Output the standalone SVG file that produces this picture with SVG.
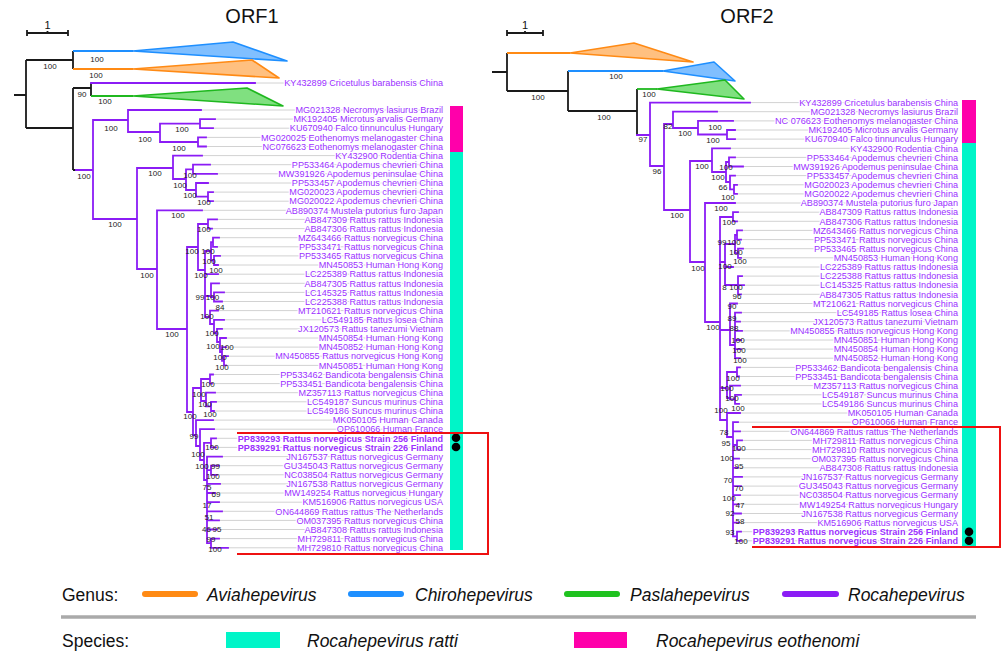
<svg xmlns="http://www.w3.org/2000/svg" width="1007" height="654" viewBox="0 0 1007 654">
<style>
.bk{stroke:#1a1a1a;stroke-width:1.8;fill:none}
.br{stroke:#8b1cf5;stroke-width:1.8;fill:none;stroke-linecap:square}
.ld{stroke:#d2d2d2;stroke-width:1;fill:none}
.lf{font-family:"Liberation Sans",Arial,sans-serif;font-size:9.1px;fill:#9b30ff;text-anchor:end;stroke:#fff;stroke-width:2.4px;paint-order:stroke;stroke-linejoin:round}
.fb{font-weight:bold}
.nl{font-family:"Liberation Sans",Arial,sans-serif;font-size:8px;fill:#222;text-anchor:middle}
.ti{font-family:"Liberation Sans",Arial,sans-serif;font-size:20px;fill:#111;text-anchor:middle}
.lg{font-family:"Liberation Sans",Arial,sans-serif;font-size:17.5px;fill:#111}
.it{font-style:italic}
.box{stroke:#ee1111;stroke-width:2;fill:none}
</style>
<rect width="1007" height="654" fill="#fff"/>
<text class="ti" x="252" y="23">ORF1</text>
<text class="ti" x="747" y="23">ORF2</text>
<g id="scale-left"><path class="bk" stroke-width="1.2" d="M27 33 H68 M27 30 V36 M68 30 V36 M47.5 31 V33"/><text x="47.5" y="29" font-family="Liberation Sans, Arial, sans-serif" font-size="11" text-anchor="middle" fill="#111">1</text></g>
<g id="scale-right"><path class="bk" stroke-width="1.2" d="M507 33 H543 M507 30 V36 M543 30 V36 M525 31 V33"/><text x="525" y="29" font-family="Liberation Sans, Arial, sans-serif" font-size="11" text-anchor="middle" fill="#111">1</text></g>

<g id="connectors">
<path class="ld" d="M255 83 H441 M201 110 H441 M215 119.1 H441 M213 128.2 H441 M206 137.4 H441 M206 146.5 H441 M202 155.6 H441 M210 164.7 H441 M217 173.8 H441 M208 183 H441 M213 192.1 H441 M213 201.2 H441 M202 210.3 H441 M217 219.4 H441 M212 228.6 H441 M219 237.7 H441 M217 246.8 H441 M220 255.9 H441 M218 265 H441 M218 274.2 H441 M219 283.3 H441 M224 292.4 H441 M222 301.5 H441 M218 310.6 H441 M224 319.8 H441 M222 328.9 H441 M226 338 H441 M226 347.1 H441 M228 356.2 H441 M226 365.4 H441 M213 374.5 H441 M212 383.6 H441 M215 392.7 H441 M216 401.8 H441 M214 411 H441 M213 420.1 H441 M214 429.2 H441 M216 438.3 H441 M216 447.4 H441 M222 456.6 H441 M219 465.7 H441 M217 474.8 H441 M220 483.9 H441 M215 493 H441 M219 502.2 H441 M222 511.3 H441 M219 520.4 H441 M217 529.5 H441 M219 538.6 H441 M228 547.8 H441"/>
<path class="ld" d="M750 102.6 H956 M717 111.7 H956 M733 120.9 H956 M735 130 H956 M735 139.1 H956 M730 148.3 H956 M735 157.4 H956 M743 166.5 H956 M735 175.6 H956 M737 184.8 H956 M737 193.9 H956 M735 203 H956 M738 212.2 H956 M737 221.3 H956 M742 230.4 H956 M741 239.6 H956 M743 248.7 H956 M741 257.8 H956 M733 267 H956 M742 276.1 H956 M744 285.2 H956 M741 294.3 H956 M737 303.5 H956 M741 312.6 H956 M740 321.7 H956 M742 330.9 H956 M741 340 H956 M741 349.1 H956 M740 358.2 H956 M740 367.4 H956 M739 376.5 H956 M740 385.6 H956 M741 394.8 H956 M739 403.9 H956 M740 413 H956 M738 422.2 H956 M740 431.3 H956 M742 440.4 H956 M740 449.6 H956 M739 458.7 H956 M738 467.8 H956 M742 476.9 H956 M741 486.1 H956 M740 495.2 H956 M739 504.3 H956 M741 513.5 H956 M739 522.6 H956 M741 531.7 H956 M741 540.8 H956"/>

<path class="bk" d="M14 95 H26 M26 60 V128 M26 60 H73 M73 51 V69 M26 128 H73 M73 88 V170 M73 88 H91 M91 83 V96 M73 170 H76"/>
<path stroke="#1e8fff" stroke-width="1.8" fill="none" d="M73 51 H133"/>
<polygon points="133,51 233,42 287,61" fill="#80bfff" stroke="#1e8fff" stroke-width="1.6" stroke-linejoin="round"/>
<path stroke="#ff8a14" stroke-width="1.8" fill="none" d="M73 69 H133"/>
<polygon points="133,69 252,60 279,78" fill="#ffc080" stroke="#ff8a14" stroke-width="1.6" stroke-linejoin="round"/>
<path stroke="#1fb81f" stroke-width="1.8" fill="none" d="M91 96 H133"/>
<polygon points="133,96 247,88 283,106" fill="#80e080" stroke="#1fb81f" stroke-width="1.6" stroke-linejoin="round"/>
<path class="br" d="M91 83 H255"/>
<path class="br" d="M76 170 H93 M93 120 V219
M93 120 H128 M128 110 V132 M128 110 H201
M128 132 H160 M160 123.7 V142
M160 123.7 H200 M200 119.1 V128.2 M200 119.1 H215 M200 128.2 H213
M160 142 H198 M198 137.4 V146.5 M198 137.4 H206 M198 146.5 H206
M93 219 H137 M137 168 V269
M137 168 H173 M173 155.6 V179 M173 155.6 H202
M173 179 H186 M186 169.3 V190
M186 169.3 H193 M193 164.7 V173.8 M193 164.7 H210 M193 173.8 H217
M186 190 H196 M196 183 V196.6 M196 183 H208
M196 196.6 H208 M208 192.1 V201.2 M208 192.1 H213 M208 201.2 H213
M137 269 H157 M157 210.3 V329 M157 210.3 H202
M157 329 H187 M187 247 V412
M187 247 H198 M198 224 V270
M198 224 H208 M208 219.4 V228.6 M208 219.4 H217 M208 228.6 H212
M198 270 H205 M205 251 V317
M205 251 H211 M211 242.2 V260.4
M211 242.2 H213 M213 237.7 V246.8 M213 237.7 H219 M213 246.8 H217
M211 260.4 H214 M214 255.9 V265 M214 255.9 H220 M214 265 H218
M205 274.2 H218
M205 296 H211 M211 283.3 V297 M211 283.3 H219
M211 297 H214 M214 292.4 V301.5 M214 292.4 H224 M214 301.5 H222
M205 317 H210 M210 310.6 V324 M210 310.6 H218
M210 324 H214 M214 319.8 V333 M214 319.8 H224
M214 333 H217 M217 328.9 V342 M217 328.9 H222
M217 342 H220 M220 338 V352 M220 338 H226
M220 352 H222 M222 347.1 V360.8 M222 347.1 H226
M222 360.8 H224 M224 356.2 V365.4 M224 356.2 H228 M224 365.4 H226
M187 412 H193 M193 388 V435
M193 388 H201 M201 379 V401
M201 379 H210 M210 374.5 V383.6 M210 374.5 H213 M210 383.6 H212
M201 401 H206 M206 392.7 V406.4 M206 392.7 H215
M206 406.4 H211 M211 401.8 V411 M211 401.8 H216 M211 411 H214
M193 435 H196 M196 420.1 V446 M196 420.1 H213
M196 446 H200 M200 429.2 V460 M200 429.2 H214
M200 460 H204 M204 442.8 V480
M204 442.8 H211 M211 438.3 V447.4 M211 438.3 H216 M211 447.4 H216
M204 480 H207 M207 456.6 V543.2 M207 456.6 H222
M207 470.2 H211 M211 465.7 V474.8 M211 465.7 H219 M211 474.8 H217
M207 483.9 H220 M207 493 H215 M207 502.2 H219 M207 511.3 H222 M207 520.4 H219 M207 529.5 H217
M207 543.2 H211 M211 538.6 V547.8 M211 538.6 H219 M211 547.8 H228"/>

<path class="bk" d="M492 72 H507 M507 53 V91 M507 91 H568 M568 71 V111 M568 111 H637 M637 89 V135"/>
<path stroke="#ff8a14" stroke-width="1.8" fill="none" d="M507 53 H570"/>
<polygon points="570,53 634,43 693,62" fill="#ffc080" stroke="#ff8a14" stroke-width="1.6" stroke-linejoin="round"/>
<path stroke="#1e8fff" stroke-width="1.8" fill="none" d="M568 71 H663"/>
<polygon points="663,71 714,62 735,81" fill="#80bfff" stroke="#1e8fff" stroke-width="1.6" stroke-linejoin="round"/>
<path stroke="#1fb81f" stroke-width="1.8" fill="none" d="M637 89 H657"/>
<polygon points="657,89 725,80 744,99" fill="#80e080" stroke="#1fb81f" stroke-width="1.6" stroke-linejoin="round"/>
<path class="br" d="M637 135 H650 M650 102.6 V166 M650 102.6 H750
M650 166 H664 M664 124 V210
M664 124 H673 M673 111.7 V128 M673 111.7 H717
M673 128 H698 M698 120.9 V134.5 M698 120.9 H733
M698 134.5 H727 M727 130 V139.1 M727 130 H735 M727 139.1 H735
M664 210 H690 M690 161 V262
M690 161 H712 M712 148.3 V172 M712 148.3 H730
M712 172 H726 M726 162 V182
M726 162 H729 M729 157.4 V166.5 M729 157.4 H735 M729 166.5 H743
M726 182 H730 M730 175.6 V189.3 M730 175.6 H735
M730 189.3 H734 M734 184.8 V193.9 M734 184.8 H737 M734 193.9 H737
M690 262 H705 M705 203 V322 M705 203 H735
M705 322 H720 M720 217 V420
M720 217 H733 M733 212.2 V221.3 M733 212.2 H738 M733 221.3 H737
M720 262 H725 M725 244 V285
M725 244 H735 M735 235 V253.2
M735 235 H737 M737 230.4 V239.6 M737 230.4 H742 M737 239.6 H741
M735 253.2 H738 M738 248.7 V257.8 M738 248.7 H743 M738 257.8 H741
M725 267 H733
M725 285 H738 M738 276.1 V294.3 M738 276.1 H742 M738 285.2 H744 M738 294.3 H741
M720 330 H730 M730 303.5 V345 M730 303.5 H737
M730 345 H735 M735 312.6 V358.2 M735 312.6 H741 M735 321.7 H740 M735 330.9 H742 M735 340 H741 M735 349.1 H741 M735 358.2 H740
M720 388 H727 M727 372 V398
M727 372 H737 M737 367.4 V376.5 M737 367.4 H740 M737 376.5 H739
M727 398 H730 M730 385.6 V399.4 M730 385.6 H740
M730 399.4 H735 M735 394.8 V403.9 M735 394.8 H741 M735 403.9 H739
M720 420 H727 M727 413 V437 M727 413 H740
M727 437 H733 M733 422.2 V536.3 M733 422.2 H738 M733 431.3 H740
M733 445 H737 M737 440.4 V449.6 M737 440.4 H742 M737 449.6 H740
M733 458.7 H739 M733 467.8 H738 M733 476.9 H742 M733 486.1 H741 M733 495.2 H740 M733 504.3 H739 M733 513.5 H741 M733 522.6 H739
M733 536.3 H737 M737 531.7 V540.8 M737 531.7 H741 M737 540.8 H741"/>
</g>

<g id="support-left">
<text class="nl" x="50" y="69">100</text><text class="nl" x="97" y="62">100</text><text class="nl" x="96" y="78">100</text><text class="nl" x="82" y="97">90</text><text class="nl" x="105" y="104">100</text>
<text class="nl" x="84" y="179">100</text><text class="nl" x="111" y="131">100</text><text class="nl" x="115" y="227">100</text><text class="nl" x="145" y="142">100</text><text class="nl" x="182" y="132">100</text><text class="nl" x="179" y="151">100</text>
<text class="nl" x="155" y="176">100</text><text class="nl" x="190" y="178">100</text><text class="nl" x="180" y="188">100</text><text class="nl" x="190" y="198">100</text><text class="nl" x="204" y="205">100</text>
<text class="nl" x="178" y="218">100</text><text class="nl" x="172" y="337">100</text><text class="nl" x="147" y="278">100</text><text class="nl" x="190" y="419">100</text>
<text class="nl" x="204" y="232">100</text><text class="nl" x="201" y="278">100</text><text class="nl" x="192" y="254">100</text><text class="nl" x="208" y="254">100</text><text class="nl" x="209" y="263.5">100</text><text class="nl" x="216" y="273">100</text>
<text class="nl" x="200" y="300">99</text><text class="nl" x="212.5" y="300">100</text><text class="nl" x="220" y="309.5">84</text><text class="nl" x="207" y="319">100</text>
<text class="nl" x="212" y="336">100</text><text class="nl" x="213" y="349">100</text><text class="nl" x="227" y="350">100</text><text class="nl" x="220" y="360">100</text><text class="nl" x="222" y="369.5">100</text>
<text class="nl" x="208" y="387">100</text><text class="nl" x="199" y="397">100</text><text class="nl" x="205" y="407">100</text><text class="nl" x="210" y="416.5">100</text>
<text class="nl" x="194" y="439">99</text><text class="nl" x="198" y="456.5">100</text><text class="nl" x="212" y="450">100</text><text class="nl" x="202" y="469">100</text><text class="nl" x="215.5" y="469">99</text><text class="nl" x="213" y="479">100</text>
<text class="nl" x="207" y="490">75</text><text class="nl" x="216" y="497">69</text><text class="nl" x="207" y="508">17</text><text class="nl" x="209" y="520">51</text><text class="nl" x="206.5" y="532">46</text><text class="nl" x="217" y="532">95</text><text class="nl" x="211" y="542">99</text><text class="nl" x="215" y="552">100</text>
</g>

<g id="support-right">
<text class="nl" x="538" y="100">100</text><text class="nl" x="616" y="79">100</text><text class="nl" x="649" y="97">100</text><text class="nl" x="604" y="120">100</text><text class="nl" x="643" y="142">97</text><text class="nl" x="657" y="174">96</text>
<text class="nl" x="668" y="129">82</text><text class="nl" x="685" y="136">100</text><text class="nl" x="715" y="130">100</text><text class="nl" x="713" y="143">100</text><text class="nl" x="677" y="218">100</text><text class="nl" x="702" y="169">100</text>
<text class="nl" x="726" y="170">100</text><text class="nl" x="718" y="180">100</text><text class="nl" x="723" y="190">66</text><text class="nl" x="728" y="199.5">100</text>
<text class="nl" x="698" y="271">100</text><text class="nl" x="721" y="211">100</text><text class="nl" x="729" y="225">100</text><text class="nl" x="722" y="245">99</text><text class="nl" x="734" y="245">100</text><text class="nl" x="736" y="254.5">100</text><text class="nl" x="740" y="264">100</text>
<text class="nl" x="725" y="269">100</text><text class="nl" x="724.5" y="289.5">8</text><text class="nl" x="736" y="289.5">100</text><text class="nl" x="737" y="299">96</text><text class="nl" x="732" y="308.5">90</text>
<text class="nl" x="732" y="321">89</text><text class="nl" x="734" y="331">88</text><text class="nl" x="738" y="343">100</text><text class="nl" x="739" y="353">100</text><text class="nl" x="740" y="363">100</text><text class="nl" x="713" y="330">100</text>
<text class="nl" x="733" y="381">100</text><text class="nl" x="727" y="391">100</text><text class="nl" x="732" y="401">100</text><text class="nl" x="738" y="410.5">100</text><text class="nl" x="721" y="413">100</text>
<text class="nl" x="724" y="435">78</text><text class="nl" x="726" y="446">95</text><text class="nl" x="739" y="451">100</text><text class="nl" x="727" y="461">100</text><text class="nl" x="739" y="469">95</text>
<text class="nl" x="728" y="483">70</text><text class="nl" x="739" y="491">70</text><text class="nl" x="729" y="500.5">100</text><text class="nl" x="740" y="508">47</text><text class="nl" x="730" y="516">92</text><text class="nl" x="740" y="524">58</text><text class="nl" x="730" y="535">93</text><text class="nl" x="741" y="544">100</text>
</g>

<g id="clades-left">
<g id="l-KY432899"><text class="lf" x="443" y="86.2">KY432899 Cricetulus barabensis China</text></g>
<g id="l-MG021328"><text class="lf" x="443" y="113.2">MG021328 Necromys lasiurus Brazil</text></g>
<g id="l-MK192405"><text class="lf" x="443" y="122.3">MK192405 Microtus arvalis Germany</text></g>
<g id="l-KU670940"><text class="lf" x="443" y="131.4">KU670940 Falco tinnunculus Hungary</text></g>
<g id="l-MG020025"><text class="lf" x="443" y="140.6">MG020025 Eothenomys melanogaster China</text></g>
<g id="l-NC076623"><text class="lf" x="443" y="149.7">NC076623 Eothenomys melanogaster China</text></g>
<g id="l-KY432900"><text class="lf" x="443" y="158.8">KY432900 Rodentia China</text></g>
<g id="l-PP533464"><text class="lf" x="443" y="167.9">PP533464 Apodemus chevrieri China</text></g>
<g id="l-MW391926"><text class="lf" x="443" y="177">MW391926 Apodemus peninsulae China</text></g>
<g id="l-PP533457"><text class="lf" x="443" y="186.2">PP533457 Apodemus chevrieri China</text></g>
<g id="l-MG020023"><text class="lf" x="443" y="195.3">MG020023 Apodemus chevrieri China</text></g>
<g id="l-MG020022"><text class="lf" x="443" y="204.4">MG020022 Apodemus chevrieri China</text></g>
<g id="l-AB890374"><text class="lf" x="443" y="213.5">AB890374 Mustela putorius furo Japan</text></g>
<g id="l-AB847309"><text class="lf" x="443" y="222.6">AB847309 Rattus rattus Indonesia</text></g>
<g id="l-AB847306"><text class="lf" x="443" y="231.8">AB847306 Rattus rattus Indonesia</text></g>
<g id="l-MZ643466"><text class="lf" x="443" y="240.9">MZ643466 Rattus norvegicus China</text></g>
<g id="l-PP533471"><text class="lf" x="443" y="250">PP533471 Rattus norvegicus China</text></g>
<g id="l-PP533465"><text class="lf" x="443" y="259.1">PP533465 Rattus norvegicus China</text></g>
<g id="l-MN450853"><text class="lf" x="443" y="268.2">MN450853 Human Hong Kong</text></g>
<g id="l-LC225389"><text class="lf" x="443" y="277.4">LC225389 Rattus rattus Indonesia</text></g>
<g id="l-AB847305"><text class="lf" x="443" y="286.5">AB847305 Rattus rattus Indonesia</text></g>
<g id="l-LC145325"><text class="lf" x="443" y="295.6">LC145325 Rattus rattus Indonesia</text></g>
<g id="l-LC225388"><text class="lf" x="443" y="304.7">LC225388 Rattus rattus Indonesia</text></g>
<g id="l-MT210621"><text class="lf" x="443" y="313.8">MT210621 Rattus norvegicus China</text></g>
<g id="l-LC549185"><text class="lf" x="443" y="323">LC549185 Rattus losea China</text></g>
<g id="l-JX120573"><text class="lf" x="443" y="332.1">JX120573 Rattus tanezumi Vietnam</text></g>
<g id="l-MN450854"><text class="lf" x="443" y="341.2">MN450854 Human Hong Kong</text></g>
<g id="l-MN450852"><text class="lf" x="443" y="350.3">MN450852 Human Hong Kong</text></g>
<g id="l-MN450855"><text class="lf" x="443" y="359.4">MN450855 Rattus norvegicus Hong Kong</text></g>
<g id="l-MN450851"><text class="lf" x="443" y="368.6">MN450851 Human Hong Kong</text></g>
<g id="l-PP533462"><text class="lf" x="443" y="377.7">PP533462 Bandicota bengalensis China</text></g>
<g id="l-PP533451"><text class="lf" x="443" y="386.8">PP533451 Bandicota bengalensis China</text></g>
<g id="l-MZ357113"><text class="lf" x="443" y="395.9">MZ357113 Rattus norvegicus China</text></g>
<g id="l-LC549187"><text class="lf" x="443" y="405">LC549187 Suncus murinus China</text></g>
<g id="l-LC549186"><text class="lf" x="443" y="414.2">LC549186 Suncus murinus China</text></g>
<g id="l-MK050105"><text class="lf" x="443" y="423.3">MK050105 Human Canada</text></g>
<g id="l-OP610066"><text class="lf" x="443" y="432.4">OP610066 Human France</text></g>
<g id="l-PP839293"><text class="lf fb" x="443" y="441.5">PP839293 Rattus norvegicus Strain 256 Finland</text></g>
<g id="l-PP839291"><text class="lf fb" x="443" y="450.6">PP839291 Rattus norvegicus Strain 226 Finland</text></g>
<g id="l-JN167537"><text class="lf" x="443" y="459.8">JN167537 Rattus norvegicus Germany</text></g>
<g id="l-GU345043"><text class="lf" x="443" y="468.9">GU345043 Rattus norvegicus Germany</text></g>
<g id="l-NC038504"><text class="lf" x="443" y="478">NC038504 Rattus norvegicus Germany</text></g>
<g id="l-JN167538"><text class="lf" x="443" y="487.1">JN167538 Rattus norvegicus Germany</text></g>
<g id="l-MW149254"><text class="lf" x="443" y="496.2">MW149254 Rattus norvegicus Hungary</text></g>
<g id="l-KM516906"><text class="lf" x="443" y="505.4">KM516906 Rattus norvegicus USA</text></g>
<g id="l-ON644869"><text class="lf" x="443" y="514.5">ON644869 Rattus rattus The Netherlands</text></g>
<g id="l-OM037395"><text class="lf" x="443" y="523.6">OM037395 Rattus norvegicus China</text></g>
<g id="l-AB847308"><text class="lf" x="443" y="532.7">AB847308 Rattus rattus Indonesia</text></g>
<g id="l-MH729811"><text class="lf" x="443" y="541.8">MH729811 Rattus norvegicus China</text></g>
<g id="l-MH729810"><text class="lf" x="443" y="551">MH729810 Rattus norvegicus China</text></g>
</g>

<g id="clades-right">
<g id="r-KY432899"><text class="lf" x="958" y="105.8">KY432899 Cricetulus barabensis China</text></g>
<g id="r-MG021328"><text class="lf" x="958" y="114.9">MG021328 Necromys lasiurus Brazil</text></g>
<g id="r-NC076623"><text class="lf" x="958" y="124.1">NC 076623 Eothenomys melanogaster China</text></g>
<g id="r-MK192405"><text class="lf" x="958" y="133.2">MK192405 Microtus arvalis Germany</text></g>
<g id="r-KU670940"><text class="lf" x="958" y="142.3">KU670940 Falco tinnunculus Hungary</text></g>
<g id="r-KY432900"><text class="lf" x="958" y="151.5">KY432900 Rodentia China</text></g>
<g id="r-PP533464"><text class="lf" x="958" y="160.6">PP533464 Apodemus chevrieri China</text></g>
<g id="r-MW391926"><text class="lf" x="958" y="169.7">MW391926 Apodemus peninsulae China</text></g>
<g id="r-PP533457"><text class="lf" x="958" y="178.8">PP533457 Apodemus chevrieri China</text></g>
<g id="r-MG020023"><text class="lf" x="958" y="188">MG020023 Apodemus chevrieri China</text></g>
<g id="r-MG020022"><text class="lf" x="958" y="197.1">MG020022 Apodemus chevrieri China</text></g>
<g id="r-AB890374"><text class="lf" x="958" y="206.2">AB890374 Mustela putorius furo Japan</text></g>
<g id="r-AB847309"><text class="lf" x="958" y="215.4">AB847309 Rattus rattus Indonesia</text></g>
<g id="r-AB847306"><text class="lf" x="958" y="224.5">AB847306 Rattus rattus Indonesia</text></g>
<g id="r-MZ643466"><text class="lf" x="958" y="233.6">MZ643466 Rattus norvegicus China</text></g>
<g id="r-PP533471"><text class="lf" x="958" y="242.8">PP533471 Rattus norvegicus China</text></g>
<g id="r-PP533465"><text class="lf" x="958" y="251.9">PP533465 Rattus norvegicus China</text></g>
<g id="r-MN450853"><text class="lf" x="958" y="261">MN450853 Human Hong Kong</text></g>
<g id="r-LC225389"><text class="lf" x="958" y="270.2">LC225389 Rattus rattus Indonesia</text></g>
<g id="r-LC225388"><text class="lf" x="958" y="279.3">LC225388 Rattus rattus Indonesia</text></g>
<g id="r-LC145325"><text class="lf" x="958" y="288.4">LC145325 Rattus rattus Indonesia</text></g>
<g id="r-AB847305"><text class="lf" x="958" y="297.5">AB847305 Rattus rattus Indonesia</text></g>
<g id="r-MT210621"><text class="lf" x="958" y="306.7">MT210621 Rattus norvegicus China</text></g>
<g id="r-LC549185"><text class="lf" x="958" y="315.8">LC549185 Rattus losea China</text></g>
<g id="r-JX120573"><text class="lf" x="958" y="324.9">JX120573 Rattus tanezumi Vietnam</text></g>
<g id="r-MN450855"><text class="lf" x="958" y="334.1">MN450855 Rattus norvegicus Hong Kong</text></g>
<g id="r-MN450851"><text class="lf" x="958" y="343.2">MN450851 Human Hong Kong</text></g>
<g id="r-MN450854"><text class="lf" x="958" y="352.3">MN450854 Human Hong Kong</text></g>
<g id="r-MN450852"><text class="lf" x="958" y="361.4">MN450852 Human Hong Kong</text></g>
<g id="r-PP533462"><text class="lf" x="958" y="370.6">PP533462 Bandicota bengalensis China</text></g>
<g id="r-PP533451"><text class="lf" x="958" y="379.7">PP533451 Bandicota bengalensis China</text></g>
<g id="r-MZ357113"><text class="lf" x="958" y="388.8">MZ357113 Rattus norvegicus China</text></g>
<g id="r-LC549187"><text class="lf" x="958" y="398">LC549187 Suncus murinus China</text></g>
<g id="r-LC549186"><text class="lf" x="958" y="407.1">LC549186 Suncus murinus China</text></g>
<g id="r-MK050105"><text class="lf" x="958" y="416.2">MK050105 Human Canada</text></g>
<g id="r-OP610066"><text class="lf" x="958" y="425.4">OP610066 Human France</text></g>
<g id="r-ON644869"><text class="lf" x="958" y="434.5">ON644869 Rattus rattus The Netherlands</text></g>
<g id="r-MH729811"><text class="lf" x="958" y="443.6">MH729811 Rattus norvegicus China</text></g>
<g id="r-MH729810"><text class="lf" x="958" y="452.8">MH729810 Rattus norvegicus China</text></g>
<g id="r-OM037395"><text class="lf" x="958" y="461.9">OM037395 Rattus norvegicus China</text></g>
<g id="r-AB847308"><text class="lf" x="958" y="471">AB847308 Rattus rattus Indonesia</text></g>
<g id="r-JN167537"><text class="lf" x="958" y="480.1">JN167537 Rattus norvegicus Germany</text></g>
<g id="r-GU345043"><text class="lf" x="958" y="489.3">GU345043 Rattus norvegicus Germany</text></g>
<g id="r-NC038504"><text class="lf" x="958" y="498.4">NC038504 Rattus norvegicus Germany</text></g>
<g id="r-MW149254"><text class="lf" x="958" y="507.5">MW149254 Rattus norvegicus Hungary</text></g>
<g id="r-JN167538"><text class="lf" x="958" y="516.7">JN167538 Rattus norvegicus Germany</text></g>
<g id="r-KM516906"><text class="lf" x="958" y="525.8">KM516906 Rattus norvegicus USA</text></g>
<g id="r-PP839293"><text class="lf fb" x="958" y="534.9">PP839293 Rattus norvegicus Strain 256 Finland</text></g>
<g id="r-PP839291"><text class="lf fb" x="958" y="544">PP839291 Rattus norvegicus Strain 226 Finland</text></g>
</g>

<g id="species-bars">
<rect x="450" y="106" width="13" height="46" fill="#ff00aa"/>
<rect x="450" y="152" width="13" height="398" fill="#00f5c8"/>
<rect x="962" y="100" width="14" height="43" fill="#ff00aa"/>
<rect x="962" y="143" width="14" height="403" fill="#00f5c8"/>
<circle cx="456" cy="437.8" r="4.3" fill="#000"/>
<circle cx="456" cy="447" r="4.3" fill="#000"/>
<circle cx="969" cy="531.7" r="4.3" fill="#000"/>
<circle cx="969" cy="540.8" r="4.3" fill="#000"/>
</g>
<g id="highlight-boxes">
<path class="box" d="M237 433 H488 V554 H237"/>
<path class="box" d="M752 427 H1000 V547 H752"/>
</g>

<g id="legend">
<text class="lg" x="62" y="601">Genus:</text>
<path d="M145 594 H195" stroke="#ff8a14" stroke-width="6" stroke-linecap="round"/>
<text class="lg it" x="207" y="601">Aviahepevirus</text>
<path d="M351 594 H401" stroke="#1e8fff" stroke-width="6" stroke-linecap="round"/>
<text class="lg it" x="415" y="601">Chirohepevirus</text>
<path d="M567 594 H617" stroke="#1fc21f" stroke-width="6" stroke-linecap="round"/>
<text class="lg it" x="630" y="601">Paslahepevirus</text>
<path d="M785 594 H836" stroke="#8b1cf5" stroke-width="6" stroke-linecap="round"/>
<text class="lg it" x="848" y="601">Rocahepevirus</text>
<path d="M61 617 H976" stroke="#aaaaaa" stroke-width="3.5"/>
<text class="lg" x="62" y="647">Species:</text>
<rect x="226" y="632" width="54" height="16" fill="#00f5c8"/>
<text class="lg it" x="307" y="647">Rocahepevirus ratti</text>
<rect x="574" y="632" width="53" height="16" fill="#ff00aa"/>
<text class="lg it" x="656" y="647">Rocahepevirus eothenomi</text>
</g>
</svg>
